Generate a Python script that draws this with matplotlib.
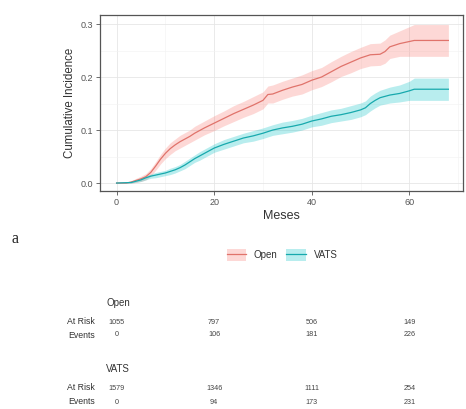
import matplotlib
matplotlib.use("Agg")
import matplotlib.pyplot as plt
from matplotlib.patches import Patch
from matplotlib.lines import Line2D
from matplotlib.transforms import blended_transform_factory

plt.rcParams['font.family'] = ['Liberation Sans', 'DejaVu Sans']

# cumulative incidence, Open group
open_t = [0, 2, 3, 4, 5, 6, 7, 8, 9, 10, 11, 12, 13, 14, 15, 16, 18, 20, 22, 24,
          26, 28, 30, 31, 32, 34, 36, 38, 40, 42, 44, 46, 48, 50, 52, 54, 55, 56, 57, 58,
          60, 61, 68]
open_cif = [0, 0, 0.002, 0.005, 0.008, 0.012, 0.02, 0.032, 0.045, 0.056,
            0.065, 0.072, 0.078, 0.083, 0.088, 0.094, 0.104, 0.113, 0.122, 0.131,
            0.139, 0.147, 0.156, 0.167, 0.168, 0.175, 0.181, 0.186, 0.194, 0.200,
            0.210, 0.220, 0.228, 0.236, 0.242, 0.243, 0.248, 0.257, 0.260, 0.263,
            0.267, 0.269, 0.269]
open_lo = [0, 0, 0.000, 0.001, 0.003, 0.006, 0.013, 0.024, 0.036, 0.046,
           0.054, 0.061, 0.066, 0.071, 0.076, 0.081, 0.091, 0.099, 0.108, 0.116,
           0.124, 0.131, 0.140, 0.151, 0.151, 0.158, 0.164, 0.168, 0.176, 0.182,
           0.191, 0.201, 0.208, 0.216, 0.221, 0.222, 0.226, 0.235, 0.237, 0.239,
           0.239, 0.239, 0.239]
open_hi = [0, 0, 0.004, 0.009, 0.013, 0.018, 0.027, 0.040, 0.054, 0.066,
           0.076, 0.083, 0.090, 0.095, 0.100, 0.107, 0.117, 0.127, 0.136, 0.146,
           0.154, 0.163, 0.172, 0.183, 0.185, 0.192, 0.198, 0.204, 0.212, 0.218,
           0.229, 0.239, 0.248, 0.256, 0.263, 0.264, 0.270, 0.279, 0.283, 0.287,
           0.295, 0.299, 0.299]

# cumulative incidence, VATS group
vats_t = [0, 3, 5, 6, 7, 8, 9, 10, 11, 12, 13, 14, 15, 16, 17, 18, 20, 22, 24, 26,
          28, 30, 32, 34, 36, 38, 40, 42, 44, 46, 48, 50, 51, 52, 53, 54, 56, 58, 60, 61,
          68]
vats_cif = [0, 0.001, 0.006, 0.01, 0.013, 0.015, 0.017, 0.019, 0.022, 0.025,
            0.029, 0.034, 0.04, 0.046, 0.051, 0.056, 0.066, 0.073, 0.079, 0.085,
            0.089, 0.094, 0.1, 0.104, 0.107, 0.111, 0.117, 0.121, 0.126, 0.129,
            0.133, 0.138, 0.142, 0.15, 0.156, 0.161, 0.166, 0.169, 0.174, 0.177,
            0.177]
vats_lo = [0, 0, 0.003, 0.006, 0.009, 0.010, 0.012, 0.014, 0.016, 0.019,
           0.023, 0.027, 0.033, 0.039, 0.043, 0.048, 0.058, 0.064, 0.070, 0.076,
           0.079, 0.084, 0.090, 0.093, 0.096, 0.100, 0.106, 0.109, 0.114, 0.117,
           0.120, 0.125, 0.129, 0.136, 0.142, 0.147, 0.151, 0.153, 0.156, 0.156,
           0.156]
vats_hi = [0, 0.002, 0.009, 0.014, 0.017, 0.020, 0.022, 0.024, 0.028, 0.031,
           0.035, 0.041, 0.047, 0.053, 0.059, 0.064, 0.074, 0.082, 0.088, 0.094,
           0.099, 0.104, 0.110, 0.115, 0.118, 0.122, 0.128, 0.133, 0.138, 0.141,
           0.146, 0.151, 0.155, 0.164, 0.170, 0.175, 0.181, 0.185, 0.192, 0.198,
           0.198]

# risk table
table_times = [0, 20, 40, 60]
open_risk = [1055, 797, 506, 149]
open_events = [0, 106, 181, 226]
vats_risk = [1579, 1346, 1111, 254]
vats_events = [0, 94, 173, 231]

RED = '#F8766D'
CYAN = '#00BFC4'
RED_LINE = '#E0736B'
CYAN_LINE = '#17A9AD'

fig = plt.figure(figsize=(4.66, 4.09), dpi=100)
ax = fig.add_axes([0.2146, 0.533, 0.779, 0.4303])

ax.fill_between(open_t, open_lo, open_hi, color=RED, alpha=0.28, lw=0)
ax.fill_between(vats_t, vats_lo, vats_hi, color=CYAN, alpha=0.28, lw=0)
ax.plot(open_t, open_cif, color=RED_LINE, lw=0.9)
ax.plot(vats_t, vats_cif, color=CYAN_LINE, lw=0.9)

ax.set_xlim(-3.4, 71)
ax.set_ylim(-0.015, 0.317)
ax.set_xticks([0, 20, 40, 60])
ax.set_yticks([0.0, 0.1, 0.2, 0.3])
ax.set_yticklabels(['0.0', '0.1', '0.2', '0.3'])
ax.set_xticks([10, 30, 50, 70], minor=True)
ax.set_yticks([0.05, 0.15, 0.25], minor=True)
ax.grid(True, which='major', color='#e6e6e6', lw=0.6)
ax.grid(True, which='minor', color='#f2f2f2', lw=0.4)
ax.set_axisbelow(True)
ax.tick_params(which='major', length=3, width=0.6, color='#555555', labelsize=6.5,
               labelcolor='#555555', pad=2)
ax.tick_params(which='minor', length=0)
for s in ax.spines.values():
    s.set_color('#555555')
    s.set_linewidth(0.9)
ax.set_xlabel('Meses', fontsize=9, color='#333333', labelpad=2)
ax.set_ylabel('Cumulative Incidence', fontsize=8.3, color='#333333', labelpad=3)

# panel letter
fig.text(12 / 466, 1 - 239 / 409, 'a', family='Liberation Serif', fontsize=11.5,
         ha='left', va='center', color='#222222')

# legend
handles = [(Patch(facecolor=RED, alpha=0.28, lw=0), Line2D([], [], color=RED_LINE, lw=0.9)),
           (Patch(facecolor=CYAN, alpha=0.28, lw=0), Line2D([], [], color=CYAN_LINE, lw=0.9))]
fig.legend(handles, ['Open', 'VATS'], ncol=2, loc='center',
           bbox_to_anchor=(282 / 466, 1 - 255 / 409), frameon=False, fontsize=7,
           handlelength=2.0, handleheight=1.4, columnspacing=0.9, handletextpad=0.8,
           labelcolor='#333333')

# risk table
tr = blended_transform_factory(ax.transData, fig.transFigure)
rows = [('Open', 302, open_risk, open_events, 321, 334),
        ('VATS', 368, vats_risk, vats_events, 387, 401)]
for name, yh, risk, ev, yr, ye in rows:
    fig.text(118 / 466, 1 - yh / 409, name, fontsize=7, ha='center',
             va='center_baseline', color='#333333')
    fig.text(95 / 466, 1 - yr / 409, 'At Risk', fontsize=6.3, ha='right',
             va='center_baseline', color='#333333')
    fig.text(95 / 466, 1 - ye / 409, 'Events', fontsize=6.3, ha='right',
             va='center_baseline', color='#333333')
    for t, r, e in zip(table_times, risk, ev):
        ax.text(t, 1 - yr / 409, str(r), transform=tr, fontsize=5.2, ha='center',
                va='center_baseline', color='#444444')
        ax.text(t, 1 - ye / 409, str(e), transform=tr, fontsize=5.2, ha='center',
                va='center_baseline', color='#444444')

fig.savefig('out.png', dpi=100)
